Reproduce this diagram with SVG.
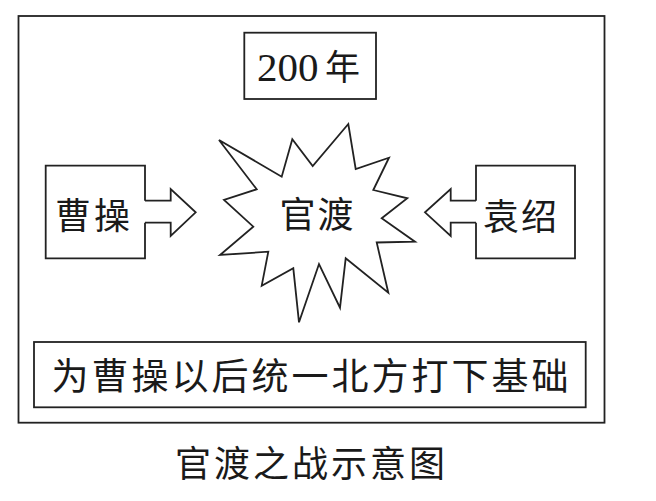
<svg xmlns="http://www.w3.org/2000/svg" width="656" height="501" viewBox="0 0 656 501">
<style>
.ln{fill:#fff;stroke:#222;stroke-width:1.8;stroke-linejoin:miter}
.op{fill:none;stroke:#222;stroke-width:1.8}
.cjk{font-family:"Noto Sans CJK SC","Noto Sans CJK TC",sans-serif;fill:#1a1a1a;text-anchor:middle}
</style>
<rect width="656" height="501" fill="#fff"/>
<g id="frame"><rect x="18.5" y="16" width="586" height="406.7" class="ln" stroke-width="2.2"/></g>
<g id="year">
<rect x="244.3" y="32.7" width="131.7" height="66.3" class="ln"/>
<text x="257" y="81" font-size="41" font-family="'Liberation Serif', 'DejaVu Serif', serif" fill="#1a1a1a">200</text>
<text class="cjk" x="342.5" y="80" font-size="35">年</text>
</g>
<g id="guandu">
<polygon class="ln" points="219,140 281.7,176.7 292.3,139.3 312.7,166 348.3,124 355.7,169 389,157.7 373.3,190 407.3,198.3 381.7,218.3 415,241.7 376.7,242.5 388.3,292.7 345.7,258.3 340,307.7 319,264 299,322.3 293.3,268.3 261.7,285.7 268.3,251.7 220,255 253.3,226.7 224,200 256.7,189.3"/>
<text class="cjk" x="317.5" y="227.7" font-size="36" letter-spacing="2">官渡</text>
</g>
<g id="caocao">
<path class="op" d="M145,200.7 V165.7 H45.7 V258.3 H145 V222.7"/>
<text class="cjk" x="94" y="228.7" font-size="36" letter-spacing="3">曹操</text>
</g>
<g id="yuanshao">
<path class="op" d="M476,200.7 V165.7 H575 V258.3 H476 V222.7"/>
<text class="cjk" x="521" y="230" font-size="36" letter-spacing="2">袁绍</text>
</g>
<g id="connectors">
<path class="op" d="M145,200.7 H170.7 V189 L195.7,212.3 L170.7,236 V222.7 H145"/>
<path class="op" d="M476,200.7 H450.7 V189 L425,212.3 L450.7,236 V222.7 H476"/>
</g>
<g id="result">
<rect x="34" y="342" width="551.7" height="65.3" class="ln"/>
<text class="cjk" x="311.5" y="390" font-size="37" letter-spacing="3">为曹操以后统一北方打下基础</text>
</g>
<g id="caption">
<text class="cjk" x="311.5" y="476.7" font-size="36" letter-spacing="3">官渡之战示意图</text>
</g>
</svg>
